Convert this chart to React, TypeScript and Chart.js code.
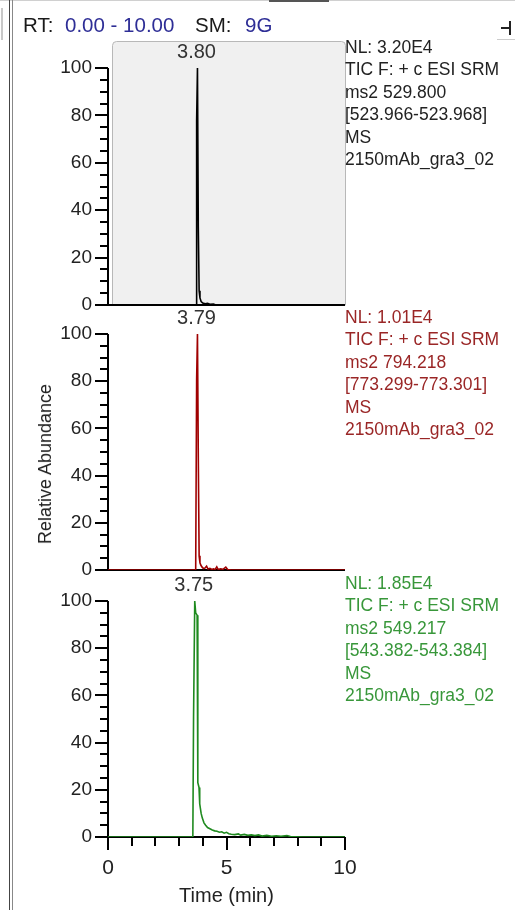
import React, { useEffect, useRef } from "react";
import { Chart, registerables } from "chart.js";

Chart.register(...registerables);

// ---------- data ----------
const xMajorTicks = [0, 5, 10];
const yTickStep = 20;

const peakLabels = ["3.80", "3.79", "3.75"];

const time1 = [0, 1, 2, 3, 3.5, 3.72, 3.74, 3.775, 3.81, 3.845, 3.88, 3.93, 4.0, 4.1, 4.2, 4.3, 4.45, 4.55, 5, 6, 7, 8, 9, 10];
const abund1 = [0, 0, 0, 0, 0, 0, 78, 100, 33, 6, 3, 1.5, 0.8, 0.5, 0.7, 0.3, 0.4, 0, 0, 0, 0, 0, 0, 0];

const time2 = [0, 1, 2, 3, 3.5, 3.7, 3.74, 3.775, 3.81, 3.845, 3.88, 3.92, 3.97, 4.03, 4.1, 4.16, 4.22, 4.3, 4.38, 4.45, 4.52, 4.59, 4.65, 4.75, 4.85, 4.97, 5.05, 5.2, 6, 7, 8, 9, 10];
const abund2 = [0, 0, 0, 0, 0, 0, 81, 100, 48, 6, 3, 2, 1.2, 0.6, 0.9, 1.6, 0.4, 0.7, 0.2, 0.5, 0.2, 1.3, 0.2, 0.5, 0.3, 1.2, 0.2, 0, 0, 0, 0, 0, 0];

const time3 = [0, 1, 2, 3, 3.58, 3.61, 3.66, 3.7, 3.76, 3.79, 3.84, 3.87, 3.93, 3.98, 4.05, 4.12, 4.2, 4.3, 4.4, 4.5, 4.6, 4.7, 4.8, 4.9, 5.0, 5.1, 5.2, 5.35, 5.5, 5.6, 5.75, 5.9, 6.05, 6.2, 6.35, 6.5, 6.7, 6.9, 7.1, 7.3, 7.55, 7.7, 7.9, 8.2, 9, 10];
const abund3 = [0, 0, 0, 0, 0, 51, 100, 95, 94, 23, 21, 14, 10, 8, 6, 5, 4, 3.5, 3, 2.6, 2.4, 2, 2.2, 1.6, 2.0, 1.4, 1.2, 1.0, 1.3, 0.8, 1.1, 0.7, 0.9, 0.6, 0.9, 0.4, 0.7, 0.3, 0.5, 0.3, 0.6, 0.2, 0.1, 0, 0, 0];

const infoLines1 = ["NL: 3.20E4", "TIC F: + c ESI SRM", "ms2 529.800", "[523.966-523.968]", "MS", "2150mAb_gra3_02"];
const infoLines2 = ["NL: 1.01E4", "TIC F: + c ESI SRM", "ms2 794.218", "[773.299-773.301]", "MS", "2150mAb_gra3_02"];
const infoLines3 = ["NL: 1.85E4", "TIC F: + c ESI SRM", "ms2 549.217", "[543.382-543.384]", "MS", "2150mAb_gra3_02"];

const xTitle = "Time (min)";
const yTitle = "Relative Abundance";

// ---------- layout ----------
const W = 515;
const H = 910;
const FONT = "'Liberation Sans', Arial, sans-serif";
const PLOT_LEFT = 108;
const PLOT_RIGHT = 345;

type PanelDef = {
  times: number[];
  values: number[];
  line: string;
  text: string;
  label: string;
  info: string[];
  top: number;
  bottom: number;
  infoTop: number;
  showX: boolean;
  box: boolean;
};

const panels: PanelDef[] = [
  { times: time1, values: abund1, line: "#000000", text: "#222222", label: peakLabels[0], info: infoLines1, top: 68, bottom: 305, infoTop: 36, showX: false, box: true },
  { times: time2, values: abund2, line: "#a00000", text: "#9a2626", label: peakLabels[1], info: infoLines2, top: 334, bottom: 570, infoTop: 306, showX: false, box: false },
  { times: time3, values: abund3, line: "#1f8a1f", text: "#38973a", label: peakLabels[2], info: infoLines3, top: 601, bottom: 837, infoTop: 572, showX: true, box: false },
];

function makePlugin(p: PanelDef) {
  return {
    id: "chromDecor",
    beforeDraw(chart: any) {
      if (!p.box) return;
      const { ctx, chartArea } = chart;
      const l = chartArea.left + 4.5;
      const t = chartArea.top - 27 + 0.5;
      const r = chartArea.right + 0.5;
      const b = chartArea.bottom;
      const rad = 4;
      ctx.save();
      ctx.beginPath();
      ctx.moveTo(l, b);
      ctx.lineTo(l, t + rad);
      ctx.quadraticCurveTo(l, t, l + rad, t);
      ctx.lineTo(r - rad, t);
      ctx.quadraticCurveTo(r, t, r, t + rad);
      ctx.lineTo(r, b);
      ctx.closePath();
      ctx.fillStyle = "#f0f0f0";
      ctx.fill();
      ctx.strokeStyle = "#b8b8b8";
      ctx.lineWidth = 1;
      ctx.stroke();
      ctx.restore();
    },
    beforeDatasetsDraw(chart: any) {
      const { ctx, chartArea, scales } = chart;
      const xs = scales.x;
      const ys = scales.y;
      const left = Math.round(chartArea.left);
      const y0 = Math.round(ys.getPixelForValue(0));
      const y100 = Math.round(ys.getPixelForValue(100));
      ctx.save();
      ctx.strokeStyle = "#000";
      ctx.lineWidth = 2;
      ctx.beginPath();
      ctx.moveTo(left, y100);
      ctx.lineTo(left, y0 + 1);
      ctx.moveTo(left, y0);
      ctx.lineTo(Math.round(chartArea.right), y0);
      for (let v = 0; v <= 100; v += 5) {
        const yy = Math.round(ys.getPixelForValue(v));
        const len = v % yTickStep === 0 ? 13 : 8;
        ctx.moveTo(left - len, yy);
        ctx.lineTo(left, yy);
      }
      if (p.showX) {
        for (let v = 0; v <= 10; v += 1) {
          const xx = Math.round(xs.getPixelForValue(v));
          const len = xMajorTicks.includes(v) ? 13 : 9;
          ctx.moveTo(xx, y0);
          ctx.lineTo(xx, y0 + len);
        }
      }
      ctx.stroke();
      ctx.restore();
    },
    afterDraw(chart: any) {
      const { ctx, scales } = chart;
      let mi = 0;
      p.values.forEach((v, i) => {
        if (v > p.values[mi]) mi = i;
      });
      const px = scales.x.getPixelForValue(p.times[mi]);
      const py = scales.y.getPixelForValue(p.values[mi]) - 16;
      ctx.save();
      ctx.font = `20px ${FONT}`;
      ctx.fillStyle = "#333";
      ctx.textAlign = "center";
      ctx.textBaseline = "middle";
      ctx.fillText(p.label, px - 1, py);
      ctx.restore();
    },
  };
}

function PanelChart({ p }: { p: PanelDef }) {
  const ref = useRef<HTMLCanvasElement | null>(null);
  useEffect(() => {
    if (!ref.current) return;
    const chart = new Chart(ref.current, {
      type: "line",
      data: {
        datasets: [
          {
            data: p.times.map((t, i) => ({ x: t, y: p.values[i] })),
            borderColor: p.line,
            borderWidth: 1.6,
            pointRadius: 0,
            tension: 0,
            fill: false,
          },
        ],
      },
      options: {
        animation: false,
        responsive: false,
        maintainAspectRatio: false,
        events: [],
        layout: { padding: { top: p.top, bottom: 0, left: 0, right: W - PLOT_RIGHT } },
        plugins: { legend: { display: false }, tooltip: { enabled: false }, title: { display: false } },
        scales: {
          x: {
            type: "linear",
            min: 0,
            max: 10,
            grid: { display: false, drawTicks: false },
            border: { display: false },
            ticks: {
              display: p.showX,
              stepSize: 1,
              autoSkip: false,
              maxRotation: 0,
              padding: 19,
              color: "#222",
              font: { family: FONT, size: 21 },
              callback: (v: any) => (xMajorTicks.includes(Number(v)) ? String(v) : ""),
            },
            title: {
              display: p.showX,
              text: xTitle,
              color: "#222",
              font: { family: FONT, size: 20 },
              padding: { top: 0, bottom: 2 },
            },
            afterFit: (s: any) => {
              s.height = H - p.bottom;
            },
          },
          y: {
            min: 0,
            max: 100,
            grid: { display: false, drawTicks: false },
            border: { display: false },
            ticks: {
              stepSize: yTickStep,
              padding: 16,
              color: "#222",
              font: { family: FONT, size: 19 },
            },
            afterFit: (s: any) => {
              s.width = PLOT_LEFT;
            },
          },
        },
      } as any,
      plugins: [makePlugin(p)],
    });
    return () => chart.destroy();
  }, [p]);
  return <canvas ref={ref} width={W} height={H} style={{ position: "absolute", left: 0, top: 0 }} />;
}

export default function App() {
  const textBase: React.CSSProperties = { position: "absolute", fontFamily: FONT, whiteSpace: "nowrap" };
  return (
    <div style={{ position: "absolute", left: 0, top: 0, width: W, height: H, background: "#fff", overflow: "hidden" }}>
      {/* frame */}
      <div style={{ position: "absolute", left: 0, top: 0, width: W, height: 1, background: "#d0d0d0" }} />
      <div style={{ position: "absolute", left: 269, top: 0, width: 60, height: 2, background: "#555" }} />
      <div style={{ position: "absolute", left: 1, top: 8, width: 2, height: 32, background: "#c8c8c8" }} />
      <div style={{ position: "absolute", left: 9, top: 0, width: 1, height: H, background: "#444" }} />
      <div style={{ position: "absolute", left: 12, top: 0, width: 1, height: H, background: "#888" }} />
      <div style={{ position: "absolute", left: 501, top: 27, width: 9, height: 2, background: "#222" }} />
      <div style={{ position: "absolute", left: 509, top: 21, width: 2, height: 14, background: "#222" }} />
      <div style={{ position: "absolute", left: 497, top: 39, width: 18, height: 1, background: "#ccc" }} />

      {panels.map((p, i) => (
        <PanelChart key={i} p={p} />
      ))}

      {/* header */}
      <div style={{ ...textBase, left: 23, top: 12, fontSize: 20.5, lineHeight: "25px", color: "#1a1a1a" }}>RT:</div>
      <div style={{ ...textBase, left: 65, top: 12, fontSize: 20.5, lineHeight: "25px", color: "#2e2e96" }}>0.00 - 10.00</div>
      <div style={{ ...textBase, left: 195, top: 12, fontSize: 20.5, lineHeight: "25px", color: "#1a1a1a" }}>SM:</div>
      <div style={{ ...textBase, left: 245, top: 12, fontSize: 20.5, lineHeight: "25px", color: "#2e2e96" }}>9G</div>

      {/* info blocks */}
      {panels.map((p, i) => (
        <div key={"info" + i} style={{ ...textBase, left: 345, top: p.infoTop, fontSize: 17.5, lineHeight: "22.4px", color: p.text }}>
          {p.info.map((s, j) => (
            <div key={j}>{s}</div>
          ))}
        </div>
      ))}

      {/* y title */}
      <div
        style={{
          ...textBase,
          left: 45,
          top: 464,
          fontSize: 18,
          lineHeight: "20px",
          color: "#222",
          transform: "translate(-50%, -50%) rotate(-90deg)",
        }}
      >
        {yTitle}
      </div>
    </div>
  );
}
